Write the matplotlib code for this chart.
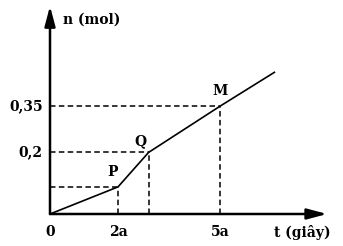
import matplotlib.pyplot as plt

# diagram values (t in units of a, n in mol)
t_pts = [0, 2, 2.9, 5, 6.6]
n_pts = [0, 0.088, 0.2, 0.35, 0.46]
point_names = ["P", "Q", "M"]
xtick_pos = [0, 2, 5]
xtick_labels = ["0", "2a", "5a"]
ytick_pos = [0.2, 0.35]
ytick_labels = ["0,2", "0,35"]

plt.rcParams["font.family"] = ["DejaVu Serif"]
plt.rcParams["font.weight"] = "bold"

fig = plt.figure(figsize=(3.43, 2.46), dpi=100)
ax = fig.add_axes([0, 0, 1, 1])
ax.set_xlim(-50 / 34, 293 / 34)
ax.set_ylim(-32 / 308, 214 / 308)
ax.axis("off")

# axes with arrows
arrow = dict(arrowstyle="-|>,head_length=0.6,head_width=0.16", lw=1.8,
             color="black", mutation_scale=20, shrinkA=0, shrinkB=0)
ax.annotate("", xy=(8.15, 0), xytext=(0, 0), arrowprops=arrow)
ax.annotate("", xy=(0, 0.675), xytext=(0, 0), arrowprops=arrow)

# graph
ax.plot(t_pts, n_pts, color="black", lw=1.2)

# dashed guides to P, Q, M
dash = (0, (3.6, 2.2))
for t, n in zip(t_pts[1:4], n_pts[1:4]):
    ax.plot([0, t], [n, n], color="black", lw=1.1, ls=dash)
    ax.plot([t, t], [0, n], color="black", lw=1.1, ls=dash)

# point labels
offsets = [(-0.15, 0.048), (-0.25, 0.035), (0.0, 0.048)]
for name, t, n, (dx, dy) in zip(point_names, t_pts[1:4], n_pts[1:4], offsets):
    ax.text(t + dx, n + dy, name, ha="center", va="center", fontsize=10, fontweight="bold")

# tick labels
for t, lab in zip(xtick_pos, xtick_labels):
    ax.text(t, -0.06, lab, ha="center", va="center", fontsize=10, fontweight="bold")
for n, lab in zip(ytick_pos, ytick_labels):
    ax.text(-0.22, n, lab, ha="right", va="center", fontsize=10, fontweight="bold")

ax.text(0.38, 0.63, "n (mol)", ha="left", va="center", fontsize=10, fontweight="bold")
ax.text(6.6, -0.06, "t (giây)", ha="left", va="center", fontsize=10, fontweight="bold")

fig.savefig("out.png", dpi=100)
